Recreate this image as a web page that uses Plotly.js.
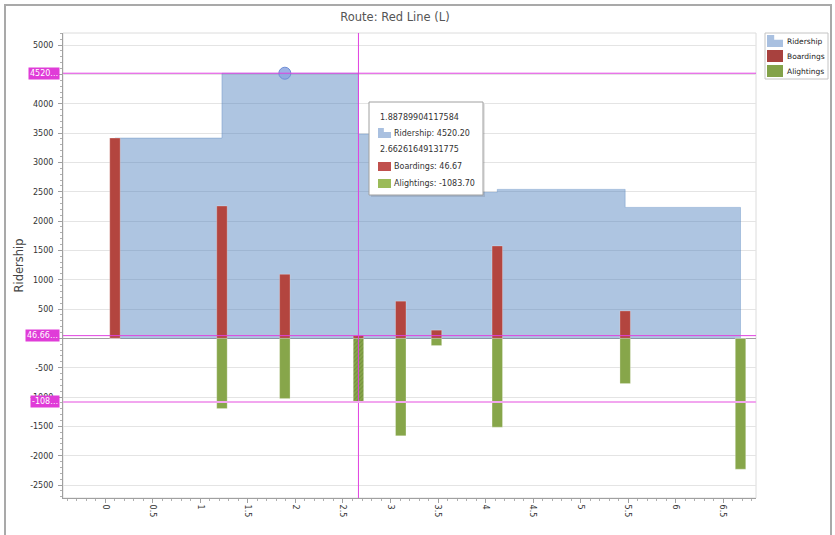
<!DOCTYPE html>
<html><head><meta charset="utf-8">
<script src="https://cdn.plot.ly/plotly-3.0.1.min.js"></script>
<style>
html,body{margin:0;padding:0;background:#fff;}
#chart{position:absolute;left:0;top:0;width:835px;height:535px;}
#frame{position:absolute;left:4px;top:4px;width:828px;height:540px;border:2px solid #a9a9a9;border-bottom:none;box-sizing:border-box;pointer-events:none;}
</style></head><body>
<div id="chart"></div><div id="frame"></div>
<script>
// ---- data ----
const stationX   = [0.10, 1.226, 1.88789904117584, 2.66261649131775, 3.108, 3.484, 4.124, 5.470, 6.684];
const ridership  = [3415, 4520.2, 4520.2, 3483.17, 2470, 2490, 2540, 2233, 0];
const boardings  = [3415, 2257, 1093, 46.67, 634, 140, 1576, 468, 0];
const alightings = [0, -1196, -1026, -1083.70, -1661, -122, -1513, -770, -2229];
const seriesNames = ['Ridership', 'Boardings', 'Alightings'];
const chartTitle = 'Route: Red Line (L)';
// y tick labels (4500 and 0 sit under the crosshair value boxes)
const yTickVals = [-2500, -2000, -1500, -1000, -500, 0, 500, 1000, 1500, 2000, 2500, 3000, 3500, 4000, 4500, 5000];
const yTickText = ['-2500', '-2000', '-1500', '-1000', '-500', '', '500', '1000', '1500', '2000', '2500', '3000', '3500', '4000', '', '5000'];
const hoverIndex = 2;      // ridership point under the cursor
const selectedIndex = 3;   // station picked by the crosshair
const crossValues = [4520.2, 46.67, -1083.70];
const crossLabels = ['4520…', '46.66…', '-108…'];

// ---- styling ----
const FONT = 'DejaVu Sans';
const colR = 'rgba(79,129,189,0.46)';
const colB = '#b3453f';
const colA = '#87a64a';
const magenta = '#e040e0';

const L = 63, R = 756, T = 33, B = 498;
const px = x => (x - L) / (R - L);
const py = y => (B - y) / (B - T);

const yRange = [-2721, 5206];
const xRange = [-0.447, 6.847];

const patShape = stationX.map((_, i) => i === selectedIndex ? '/' : '');

const traces = [
  {type:'scatter', mode:'lines', name:seriesNames[0], x:stationX, y:ridership,
   line:{shape:'hv', width:1, color:'rgba(79,129,189,0.35)'}, fill:'tozeroy', fillcolor:colR,
   xaxis:'x', yaxis:'y', hoverinfo:'skip'},
  {type:'bar', name:seriesNames[1], x:stationX, y:boardings, width:0.11,
   marker:{color:colB, line:{width:0.6, color:'rgba(255,255,255,0.45)'},
     pattern:{shape:patShape, fillmode:'overlay', fgcolor:'rgba(70,40,30,0.55)', size:3, solidity:0.35}},
   xaxis:'x', yaxis:'y2', hoverinfo:'skip'},
  {type:'bar', name:seriesNames[2], x:stationX, y:alightings, width:0.11,
   marker:{color:colA, line:{width:0.6, color:'rgba(255,255,255,0.45)'},
     pattern:{shape:patShape, fillmode:'overlay', fgcolor:'rgba(70,90,30,0.6)', size:3, solidity:0.35}},
   xaxis:'x', yaxis:'y2', hoverinfo:'skip'},
  {type:'scatter', mode:'markers', x:[stationX[hoverIndex]], y:[ridership[hoverIndex]],
   marker:{size:12, color:'rgba(140,165,225,0.85)', line:{color:'#6f8fd6', width:1}},
   xaxis:'x', yaxis:'y2', hoverinfo:'skip', showlegend:false}
];

const shapes = [];
const annotations = [];

// plot frame (light)
shapes.push({type:'rect', xref:'paper', yref:'paper', x0:0, x1:1, y0:0, y1:1,
  line:{color:'#dcdcdc', width:1}, layer:'below'});

// crosshair
shapes.push({type:'line', xref:'x', yref:'paper', x0:stationX[selectedIndex], x1:stationX[selectedIndex], y0:0, y1:1,
  line:{color:magenta, width:1}, layer:'above'});
const crossColors = [magenta, magenta, '#f2a6ef'];
const crossWidths = [1, 1, 2];
crossValues.forEach((v, i) => {
  shapes.push({type:'line', xref:'paper', yref:'y', x0:0, x1:1, y0:v, y1:v,
    line:{color:crossColors[i], width:crossWidths[i]}, layer:'above'});
  annotations.push({xref:'paper', yref:'y', x:px(60), y:v, xanchor:'right', yanchor:'middle',
    text:crossLabels[i], showarrow:false, bgcolor:'#e03cd8', borderpad:1,
    font:{family:FONT, size:8, color:'#ffffff'}});
});

// tooltip box
shapes.push({type:'rect', xref:'paper', yref:'paper', x0:px(371), x1:px(485), y0:py(197), y1:py(104),
  fillcolor:'rgba(0,0,0,0.10)', line:{width:0}, layer:'above'});
shapes.push({type:'rect', xref:'paper', yref:'paper', x0:px(369), x1:px(483), y0:py(195), y1:py(102),
  fillcolor:'#ffffff', line:{color:'#a0a0a0', width:1}, layer:'above'});

function stepIcon(x0, y0, x1, y1, color) {
  const xm = x0 + (x1 - x0) * 0.45, ym = y0 + (y1 - y0) * 0.4;
  const p = `M ${px(x0)} ${py(y1)} L ${px(x0)} ${py(y0)} L ${px(xm)} ${py(y0)} L ${px(xm)} ${py(ym)} L ${px(x1)} ${py(ym)} L ${px(x1)} ${py(y1)} Z`;
  shapes.push({type:'path', xref:'paper', yref:'paper', path:p, fillcolor:color, line:{width:0}, layer:'above'});
}
function boxIcon(x0, y0, x1, y1, color) {
  shapes.push({type:'rect', xref:'paper', yref:'paper', x0:px(x0), x1:px(x1), y0:py(y1), y1:py(y0),
    fillcolor:color, line:{width:0}, layer:'above'});
}
function label(x, y, text, size, color) {
  annotations.push({xref:'paper', yref:'paper', x:px(x), y:py(y), xanchor:'left', yanchor:'middle',
    text:text, showarrow:false, font:{family:FONT, size:size, color:color}});
}

const tipFont = 8, tipColor = '#333333';
label(378, 117, String(stationX[hoverIndex]), tipFont, tipColor);
stepIcon(378, 128, 391, 138, '#a9c0e0');
label(392, 133, seriesNames[0] + ': ' + ridership[hoverIndex].toFixed(2), tipFont, tipColor);
label(378, 149, String(stationX[selectedIndex]), tipFont, tipColor);
boxIcon(378, 162, 391, 171, '#c0504d');
label(392, 166, seriesNames[1] + ': ' + boardings[selectedIndex].toFixed(2), tipFont, tipColor);
boxIcon(378, 179, 391, 188, '#9bbb59');
label(392, 183, seriesNames[2] + ': ' + alightings[selectedIndex].toFixed(2), tipFont, tipColor);

// legend
shapes.push({type:'rect', xref:'paper', yref:'paper', x0:px(765), x1:px(828), y0:py(79), y1:py(33),
  fillcolor:'#ffffff', line:{color:'#c4c4c4', width:1}, layer:'above'});
stepIcon(767, 35, 783, 47, '#a9c0e0');
boxIcon(767, 50, 783, 62, '#a8413e');
boxIcon(767, 65, 783, 77, '#83a24a');
label(785, 41.5, seriesNames[0], 7.5, '#222');
label(785, 56.5, seriesNames[1], 7.5, '#222');
label(785, 71.5, seriesNames[2], 7.5, '#222');

const tickFont = {family:FONT, size:8, color:'#333333'};

const layout = {
  width:835, height:535,
  margin:{l:L, r:835-R, t:T, b:535-B, pad:0},
  paper_bgcolor:'rgba(0,0,0,0)', plot_bgcolor:'#ffffff',
  showlegend:false,
  barmode:'overlay',
  title:{text:chartTitle, font:{family:FONT, size:11.5, color:'#555555'},
    xref:'paper', x:400/835 , xanchor:'center', yref:'container', y:1-16.5/535, yanchor:'middle'},
  xaxis:{range:xRange, tick0:0, dtick:0.5, tickangle:90, showgrid:false, zeroline:false,
    showline:true, linecolor:'#a0a0a0', linewidth:1, ticks:'outside', ticklen:4, tickcolor:'#a0a0a0',
    minor:{dtick:0.1, ticks:'outside', ticklen:2, tickcolor:'#b0b0b0', showgrid:false},
    tickfont:tickFont, fixedrange:true},
  yaxis:{range:yRange, tickmode:'array', tickvals:yTickVals, ticktext:yTickText,
    showgrid:true, gridcolor:'#e4e4e4', gridwidth:1,
    zeroline:true, zerolinecolor:'#a0a0a0', zerolinewidth:1,
    showline:true, linecolor:'#a0a0a0', linewidth:1, ticks:'outside', ticklen:4, tickcolor:'#a0a0a0',
    ticklabelstandoff:3,
    minor:{dtick:100, ticks:'outside', ticklen:2, tickcolor:'#b0b0b0', showgrid:false},
    tickfont:tickFont, fixedrange:true,
    title:{text:seriesNames[0], font:{family:FONT, size:11.5, color:'#444444'}, standoff:4}},
  yaxis2:{range:yRange, overlaying:'y', visible:false, fixedrange:true},
  shapes:shapes, annotations:annotations
};

Plotly.newPlot('chart', traces, layout, {displayModeBar:false, staticPlot:true});
</script></body></html>
